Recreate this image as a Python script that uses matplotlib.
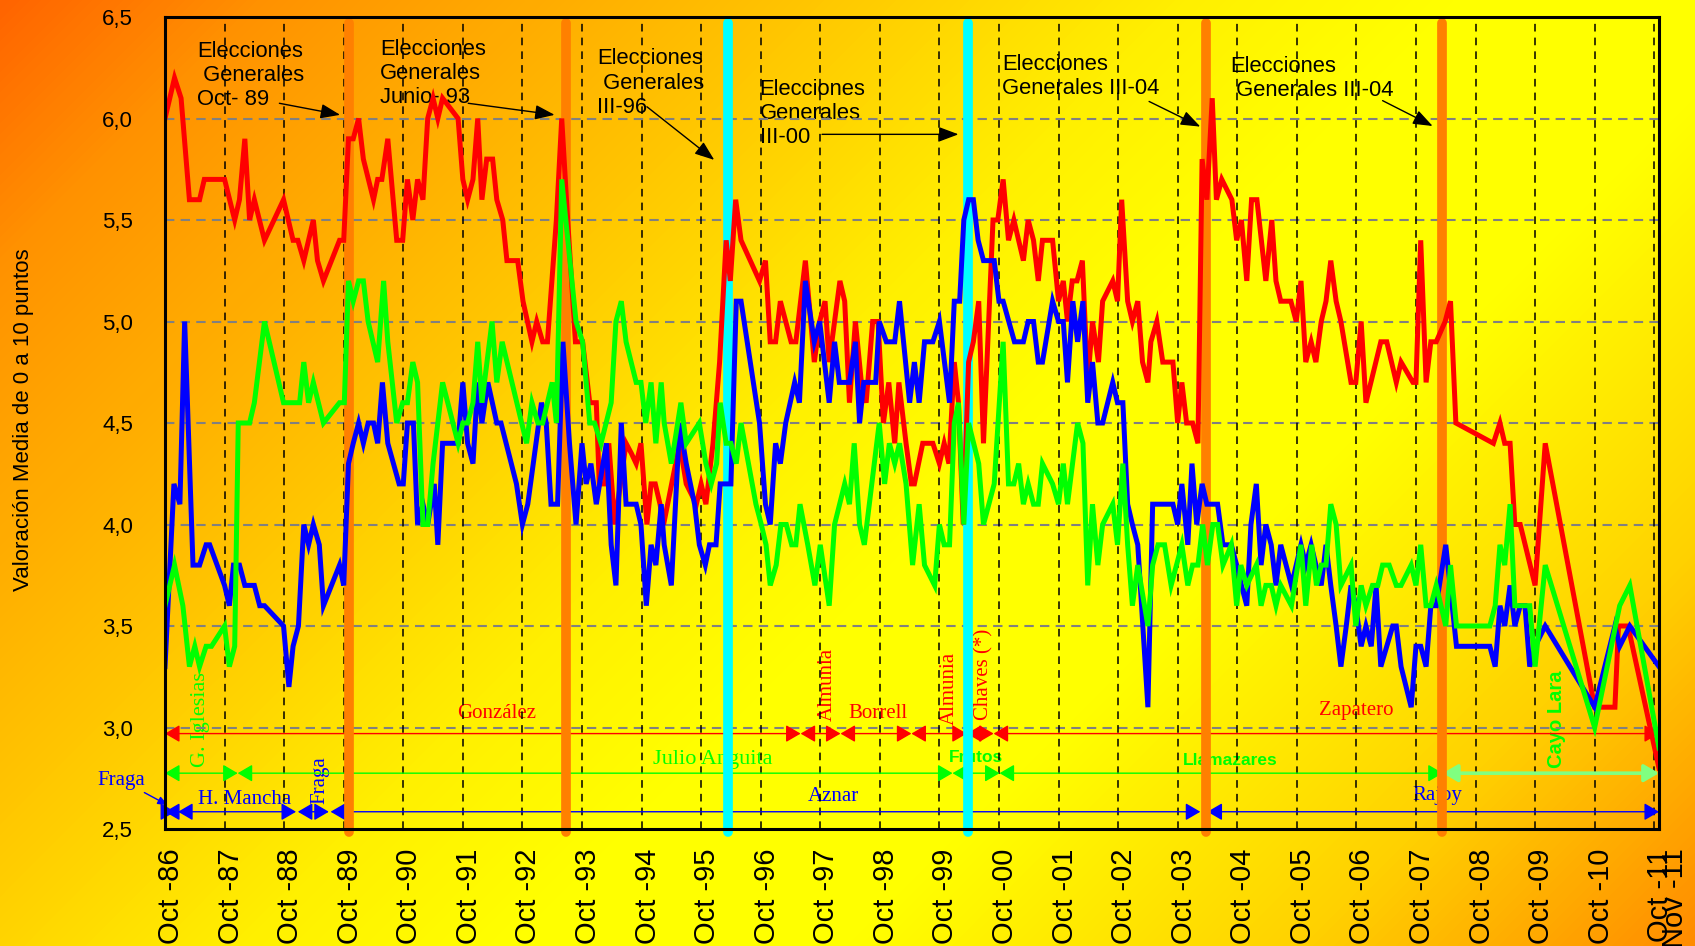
import numpy as np
import matplotlib.pyplot as plt
import matplotlib.transforms as mtransforms
from matplotlib.colors import LinearSegmentedColormap

plt.rcParams['font.family'] = ['Liberation Sans', 'DejaVu Sans']

# ---- data: (decimal year, mean rating) ----
psoe = [(1986.75, 6.0), (1986.91, 6.2), (1987.02, 6.1), (1987.16, 5.6), (1987.33, 5.6), (1987.41, 5.7),
        (1987.75, 5.7), (1987.92, 5.5), (1988.00, 5.6), (1988.09, 5.9), (1988.17, 5.5), (1988.25, 5.6),
        (1988.42, 5.4), (1988.74, 5.6), (1988.90, 5.4), (1988.98, 5.4), (1989.08, 5.3), (1989.24, 5.5),
        (1989.31, 5.3), (1989.41, 5.2), (1989.68, 5.4), (1989.75, 5.4), (1989.83, 5.9), (1989.91, 5.9),
        (1990.00, 6.0), (1990.08, 5.8), (1990.25, 5.6), (1990.32, 5.7), (1990.39, 5.7), (1990.49, 5.9),
        (1990.64, 5.4), (1990.74, 5.4), (1990.82, 5.7), (1990.91, 5.5), (1990.99, 5.7), (1991.08, 5.6),
        (1991.16, 6.0), (1991.25, 6.1), (1991.33, 6.0), (1991.41, 6.1), (1991.67, 6.0), (1991.75, 5.7),
        (1991.83, 5.6), (1991.92, 5.7), (1992.00, 6.0), (1992.07, 5.6), (1992.15, 5.8), (1992.25, 5.8),
        (1992.32, 5.6), (1992.42, 5.5), (1992.49, 5.3), (1992.67, 5.3), (1992.76, 5.1), (1992.91, 4.9),
        (1992.99, 5.0), (1993.09, 4.9), (1993.17, 4.9), (1993.32, 5.5), (1993.41, 6.0), (1993.51, 5.5),
        (1993.64, 4.9), (1993.76, 4.9), (1993.88, 4.6), (1993.99, 4.6), (1994.04, 4.2), (1994.13, 4.2),
        (1994.20, 4.4), (1994.30, 4.0), (1994.49, 4.4), (1994.58, 4.35), (1994.66, 4.3), (1994.74, 4.4),
        (1994.84, 4.0), (1994.91, 4.2), (1994.98, 4.2), (1995.06, 4.1), (1995.12, 4.0), (1995.39, 4.4),
        (1995.50, 4.2), (1995.67, 4.1), (1995.75, 4.2), (1995.83, 4.1), (1995.95, 4.4), (1996.06, 4.8),
        (1996.17, 5.4), (1996.24, 5.2), (1996.33, 5.6), (1996.42, 5.4), (1996.73, 5.2), (1996.83, 5.3),
        (1996.91, 4.9), (1997.00, 4.9), (1997.08, 5.1), (1997.26, 4.9), (1997.34, 4.9), (1997.50, 5.3),
        (1997.65, 4.8), (1997.74, 5.0), (1997.83, 5.1), (1997.90, 4.8), (1998.08, 5.2), (1998.16, 5.1),
        (1998.24, 4.6), (1998.34, 5.0), (1998.44, 4.7), (1998.52, 4.6), (1998.63, 5.0), (1998.72, 5.0),
        (1998.81, 4.5), (1998.90, 4.7), (1999.00, 4.4), (1999.07, 4.7), (1999.19, 4.4), (1999.28, 4.2),
        (1999.33, 4.2), (1999.47, 4.4), (1999.64, 4.4), (1999.75, 4.3), (1999.83, 4.4), (1999.91, 4.3),
        (2000.00, 4.8), (2000.07, 4.6), (2000.15, 4.0), (2000.24, 4.8), (2000.32, 4.9), (2000.41, 5.1),
        (2000.49, 4.4), (2000.65, 5.5), (2000.73, 5.5), (2000.82, 5.7), (2000.91, 5.4), (2001.00, 5.5),
        (2001.16, 5.3), (2001.24, 5.5), (2001.33, 5.4), (2001.41, 5.2), (2001.48, 5.4), (2001.65, 5.4),
        (2001.75, 5.1), (2001.83, 5.2), (2001.90, 5.0), (2001.98, 5.2), (2002.06, 5.2), (2002.15, 5.3),
        (2002.24, 4.7), (2002.32, 5.0), (2002.42, 4.8), (2002.49, 5.1), (2002.66, 5.2), (2002.74, 5.1),
        (2002.81, 5.6), (2002.91, 5.1), (2002.99, 5.0), (2003.08, 5.1), (2003.16, 4.8), (2003.25, 4.7),
        (2003.30, 4.9), (2003.40, 5.0), (2003.50, 4.8), (2003.67, 4.8), (2003.75, 4.5), (2003.82, 4.7),
        (2003.90, 4.5), (2004.00, 4.5), (2004.09, 4.4), (2004.16, 5.8), (2004.24, 5.6), (2004.33, 6.1),
        (2004.40, 5.6), (2004.49, 5.7), (2004.66, 5.6), (2004.74, 5.4), (2004.82, 5.5), (2004.91, 5.2),
        (2004.99, 5.6), (2005.08, 5.6), (2005.23, 5.2), (2005.33, 5.5), (2005.40, 5.2), (2005.48, 5.1),
        (2005.65, 5.1), (2005.74, 5.0), (2005.82, 5.2), (2005.90, 4.8), (2005.99, 4.9), (2006.07, 4.8),
        (2006.16, 5.0), (2006.24, 5.1), (2006.32, 5.3), (2006.41, 5.1), (2006.49, 5.0), (2006.66, 4.7),
        (2006.74, 4.7), (2006.83, 5.0), (2006.91, 4.6), (2007.16, 4.9), (2007.26, 4.9), (2007.42, 4.7),
        (2007.50, 4.8), (2007.70, 4.7), (2007.75, 4.7), (2007.83, 5.4), (2007.92, 4.7), (2008.00, 4.9),
        (2008.09, 4.9), (2008.24, 5.0), (2008.33, 5.1), (2008.42, 4.5), (2009.05, 4.4), (2009.16, 4.5),
        (2009.24, 4.4), (2009.33, 4.4), (2009.41, 4.0), (2009.50, 4.0), (2009.75, 3.7), (2009.92, 4.4),
        (2010.75, 3.1), (2011.09, 3.1), (2011.15, 3.5), (2011.31, 3.5), (2011.83, 2.8)]

pp = [(1986.75, 3.3), (1986.90, 4.2), (1987.00, 4.1), (1987.08, 5.0), (1987.22, 3.8), (1987.33, 3.8),
      (1987.44, 3.9), (1987.50, 3.9), (1987.75, 3.7), (1987.83, 3.6), (1987.90, 3.8), (1988.00, 3.8),
      (1988.09, 3.7), (1988.25, 3.7), (1988.34, 3.6), (1988.42, 3.6), (1988.74, 3.5), (1988.83, 3.2),
      (1988.90, 3.4), (1988.99, 3.5), (1989.08, 4.0), (1989.16, 3.9), (1989.24, 4.0), (1989.34, 3.9),
      (1989.41, 3.6), (1989.68, 3.8), (1989.75, 3.7), (1989.83, 4.3), (1989.91, 4.4), (1990.00, 4.5),
      (1990.08, 4.4), (1990.16, 4.5), (1990.25, 4.5), (1990.32, 4.4), (1990.40, 4.7), (1990.49, 4.4),
      (1990.68, 4.2), (1990.75, 4.2), (1990.82, 4.5), (1990.92, 4.5), (1990.99, 4.0), (1991.08, 4.1),
      (1991.16, 4.0), (1991.27, 4.2), (1991.33, 3.9), (1991.41, 4.4), (1991.67, 4.4), (1991.75, 4.7),
      (1991.83, 4.4), (1991.92, 4.3), (1992.00, 4.7), (1992.07, 4.5), (1992.17, 4.7), (1992.32, 4.5),
      (1992.39, 4.5), (1992.65, 4.2), (1992.75, 4.0), (1992.84, 4.1), (1993.07, 4.6), (1993.15, 4.5),
      (1993.23, 4.1), (1993.34, 4.1), (1993.43, 4.9), (1993.54, 4.4), (1993.65, 4.0), (1993.75, 4.4),
      (1993.82, 4.2), (1993.90, 4.3), (1993.99, 4.1), (1994.16, 4.4), (1994.24, 3.9), (1994.32, 3.7),
      (1994.41, 4.5), (1994.49, 4.1), (1994.66, 4.1), (1994.74, 4.0), (1994.83, 3.6), (1994.91, 3.9),
      (1994.99, 3.8), (1995.08, 4.1), (1995.13, 3.9), (1995.25, 3.7), (1995.39, 4.5), (1995.50, 4.3),
      (1995.64, 4.1), (1995.72, 3.9), (1995.82, 3.8), (1995.89, 3.9), (1996.00, 3.9), (1996.07, 4.2),
      (1996.25, 4.2), (1996.34, 5.1), (1996.42, 5.1), (1996.73, 4.5), (1996.83, 4.1), (1996.91, 4.0),
      (1997.00, 4.4), (1997.08, 4.3), (1997.17, 4.5), (1997.32, 4.7), (1997.40, 4.6), (1997.50, 5.2),
      (1997.65, 4.9), (1997.74, 5.0), (1997.90, 4.6), (1997.99, 4.9), (1998.07, 4.7), (1998.24, 4.7),
      (1998.34, 4.9), (1998.41, 4.5), (1998.48, 4.7), (1998.68, 4.7), (1998.74, 5.0), (1998.86, 4.9),
      (1999.00, 4.9), (1999.08, 5.1), (1999.25, 4.6), (1999.33, 4.8), (1999.41, 4.6), (1999.50, 4.9),
      (1999.64, 4.9), (1999.75, 5.0), (1999.92, 4.6), (2000.00, 5.1), (2000.09, 5.1), (2000.16, 5.5),
      (2000.24, 5.6), (2000.32, 5.6), (2000.40, 5.4), (2000.49, 5.3), (2000.67, 5.3), (2000.75, 5.1),
      (2000.82, 5.1), (2001.01, 4.9), (2001.16, 4.9), (2001.24, 5.0), (2001.33, 5.0), (2001.41, 4.8),
      (2001.48, 4.8), (2001.65, 5.1), (2001.75, 5.0), (2001.83, 5.0), (2001.90, 4.7), (2001.99, 5.1),
      (2002.07, 4.9), (2002.16, 5.1), (2002.24, 4.6), (2002.32, 4.8), (2002.41, 4.5), (2002.49, 4.5),
      (2002.66, 4.7), (2002.74, 4.6), (2002.83, 4.6), (2002.91, 4.1), (2002.99, 4.0), (2003.08, 3.9),
      (2003.25, 3.1), (2003.33, 4.1), (2003.53, 4.1), (2003.67, 4.1), (2003.75, 4.0), (2003.82, 4.2),
      (2003.92, 3.9), (2003.99, 4.3), (2004.07, 4.0), (2004.16, 4.2), (2004.24, 4.1), (2004.42, 4.1),
      (2004.51, 3.9), (2004.65, 3.9), (2004.74, 3.8), (2004.82, 3.7), (2004.91, 3.6), (2004.98, 4.0),
      (2005.07, 4.2), (2005.15, 3.8), (2005.23, 4.0), (2005.32, 3.9), (2005.40, 3.7), (2005.48, 3.9),
      (2005.66, 3.7), (2005.74, 3.8), (2005.82, 3.9), (2005.90, 3.8), (2005.99, 3.9), (2006.07, 3.8),
      (2006.16, 3.7), (2006.24, 3.9), (2006.32, 3.7), (2006.41, 3.5), (2006.49, 3.3), (2006.58, 3.5),
      (2006.66, 3.7), (2006.74, 3.6), (2006.83, 3.4), (2006.91, 3.5), (2007.00, 3.4), (2007.08, 3.7),
      (2007.16, 3.3), (2007.36, 3.5), (2007.42, 3.5), (2007.50, 3.3), (2007.67, 3.1), (2007.75, 3.4),
      (2007.83, 3.4), (2007.92, 3.3), (2008.00, 3.6), (2008.09, 3.6), (2008.25, 3.9), (2008.43, 3.4),
      (2008.99, 3.4), (2009.08, 3.3), (2009.16, 3.6), (2009.24, 3.5), (2009.33, 3.7), (2009.41, 3.5),
      (2009.50, 3.6), (2009.58, 3.6), (2009.66, 3.3), (2009.75, 3.4), (2009.92, 3.5), (2010.75, 3.1),
      (2011.09, 3.5), (2011.17, 3.4), (2011.34, 3.5), (2011.83, 3.3)]

iu = [(1986.75, 3.6), (1986.91, 3.8), (1987.05, 3.6), (1987.16, 3.3), (1987.25, 3.4), (1987.33, 3.3),
      (1987.44, 3.4), (1987.53, 3.4), (1987.75, 3.5), (1987.83, 3.3), (1987.92, 3.4), (1987.98, 4.5),
      (1988.17, 4.5), (1988.25, 4.6), (1988.42, 5.0), (1988.74, 4.6), (1989.01, 4.6), (1989.08, 4.8),
      (1989.16, 4.6), (1989.24, 4.7), (1989.41, 4.5), (1989.68, 4.6), (1989.76, 4.6), (1989.83, 5.2),
      (1989.91, 5.1), (1990.00, 5.2), (1990.08, 5.2), (1990.16, 5.0), (1990.32, 4.8), (1990.42, 5.2),
      (1990.49, 4.9), (1990.64, 4.5), (1990.74, 4.6), (1990.82, 4.6), (1990.91, 4.8), (1990.99, 4.7),
      (1991.08, 4.0), (1991.16, 4.0), (1991.25, 4.3), (1991.41, 4.7), (1991.67, 4.4), (1991.75, 4.5),
      (1991.83, 4.5), (1991.92, 4.6), (1992.00, 4.9), (1992.07, 4.6), (1992.24, 5.0), (1992.32, 4.7),
      (1992.41, 4.9), (1992.82, 4.4), (1992.91, 4.6), (1993.01, 4.5), (1993.09, 4.5), (1993.25, 4.7),
      (1993.32, 4.5), (1993.41, 5.7), (1993.65, 5.0), (1993.76, 4.9), (1993.88, 4.5), (1993.96, 4.5),
      (1994.07, 4.4), (1994.24, 4.6), (1994.32, 5.0), (1994.41, 5.1), (1994.49, 4.9), (1994.66, 4.7),
      (1994.74, 4.7), (1994.82, 4.5), (1994.91, 4.7), (1994.99, 4.4), (1995.08, 4.7), (1995.13, 4.5),
      (1995.25, 4.3), (1995.41, 4.6), (1995.50, 4.4), (1995.72, 4.5), (1995.83, 4.3), (1995.92, 4.2),
      (1996.01, 4.3), (1996.07, 4.6), (1996.17, 4.4), (1996.25, 4.4), (1996.34, 4.3), (1996.42, 4.5),
      (1996.67, 4.1), (1996.76, 4.0), (1996.84, 3.9), (1996.91, 3.7), (1997.01, 3.8), (1997.09, 4.0),
      (1997.18, 4.0), (1997.27, 3.9), (1997.34, 3.9), (1997.41, 4.1), (1997.54, 3.9), (1997.66, 3.7),
      (1997.75, 3.9), (1997.90, 3.6), (1997.99, 4.0), (1998.16, 4.2), (1998.24, 4.1), (1998.32, 4.4),
      (1998.41, 4.0), (1998.49, 3.9), (1998.74, 4.5), (1998.83, 4.2), (1998.91, 4.4), (1999.00, 4.3),
      (1999.08, 4.4), (1999.19, 4.2), (1999.30, 3.8), (1999.41, 4.1), (1999.50, 3.8), (1999.67, 3.7),
      (1999.75, 4.0), (1999.83, 3.9), (1999.92, 3.9), (2000.00, 4.5), (2000.07, 4.6), (2000.16, 4.0),
      (2000.24, 4.5), (2000.41, 4.3), (2000.49, 4.0), (2000.67, 4.2), (2000.82, 4.9), (2000.91, 4.2),
      (2001.00, 4.2), (2001.08, 4.3), (2001.16, 4.1), (2001.24, 4.2), (2001.33, 4.1), (2001.41, 4.1),
      (2001.48, 4.3), (2001.65, 4.2), (2001.75, 4.1), (2001.83, 4.3), (2001.90, 4.1), (2002.07, 4.5),
      (2002.16, 4.4), (2002.24, 3.7), (2002.32, 4.1), (2002.41, 3.8), (2002.49, 4.0), (2002.66, 4.1),
      (2002.74, 3.9), (2002.83, 4.3), (2002.91, 3.9), (2002.99, 3.6), (2003.08, 3.8), (2003.25, 3.5),
      (2003.33, 3.8), (2003.42, 3.9), (2003.53, 3.9), (2003.64, 3.7), (2003.82, 3.9), (2003.92, 3.7),
      (2004.00, 3.8), (2004.09, 3.8), (2004.17, 4.0), (2004.25, 3.8), (2004.34, 4.0), (2004.42, 4.0),
      (2004.51, 3.8), (2004.65, 3.9), (2004.74, 3.6), (2004.81, 3.8), (2004.91, 3.7), (2005.07, 3.8),
      (2005.15, 3.6), (2005.23, 3.7), (2005.32, 3.7), (2005.40, 3.6), (2005.48, 3.7), (2005.66, 3.6),
      (2005.82, 3.9), (2005.90, 3.6), (2006.00, 3.9), (2006.08, 3.7), (2006.16, 3.8), (2006.24, 3.8),
      (2006.32, 4.1), (2006.41, 4.0), (2006.49, 3.7), (2006.66, 3.8), (2006.74, 3.5), (2006.83, 3.7),
      (2006.91, 3.6), (2007.02, 3.7), (2007.11, 3.7), (2007.19, 3.8), (2007.30, 3.8), (2007.42, 3.7),
      (2007.50, 3.7), (2007.67, 3.8), (2007.75, 3.7), (2007.83, 3.9), (2007.92, 3.6), (2008.00, 3.6),
      (2008.09, 3.7), (2008.17, 3.6), (2008.25, 3.5), (2008.33, 3.8), (2008.43, 3.5), (2008.99, 3.5),
      (2009.08, 3.6), (2009.16, 3.9), (2009.24, 3.8), (2009.33, 4.1), (2009.41, 3.6), (2009.66, 3.6),
      (2009.75, 3.3), (2009.92, 3.8), (2010.75, 3.0), (2011.17, 3.6), (2011.34, 3.7), (2011.83, 2.9)]

# general elections (date, colour of the band)
election_dates = [1989.84, 1993.48, 1996.20, 2000.23, 2004.23, 2008.18]
election_colors = ['#FF8000', '#FF8000', '#00FFFF', '#00FFFF', '#FF8000', '#FF8000']

# party leaders: name, from, to
psoe_names = ['González', 'Almunia', 'Borrell', 'Almunia', 'Chaves (*)', 'Zapatero']
psoe_from = [1986.75, 1997.42, 1998.09, 1999.28, 2000.21, 2000.66]
psoe_to = [1997.42, 1998.09, 1999.28, 2000.21, 2000.66, 2011.83]
iu_names = ['G. Iglesias', 'Julio Anguita', 'Frutos', 'Llamazares', 'Cayo Lara']
iu_from = [1986.75, 1987.97, 1999.97, 2000.76, 2008.20]
iu_to = [1987.97, 1999.97, 2000.76, 2008.20, 2011.83]
pp_names = ['Fraga', 'H. Mancha', 'Fraga', 'Aznar', 'Rajoy']
pp_from = [1986.75, 1986.97, 1988.98, 1989.53, 2004.25]
pp_to = [1986.92, 1988.95, 1989.50, 2004.13, 2011.83]

tick_years = [1986.75, 1987.75, 1988.75, 1989.75, 1990.75, 1991.75, 1992.75, 1993.75, 1994.75,
              1995.75, 1996.75, 1997.75, 1998.75, 1999.75, 2000.75, 2001.75, 2002.75, 2003.75,
              2004.75, 2005.75, 2006.75, 2007.75, 2008.75, 2009.75, 2010.75, 2011.75, 2011.83]
tick_labels = ['Oct -86', 'Oct -87', 'Oct -88', 'Oct -89', 'Oct -90', 'Oct -91', 'Oct -92', 'Oct -93',
               'Oct -94', 'Oct -95', 'Oct -96', 'Oct -97', 'Oct -98', 'Oct -99', 'Oct -00', 'Oct -01',
               'Oct -02', 'Oct -03', 'Oct -04', 'Oct -05', 'Oct -06', 'Oct -07', 'Oct -08', 'Oct -09',
               'Oct -10', 'Oct -11', 'Nov -11']
y_ticks = [2.5, 3.0, 3.5, 4.0, 4.5, 5.0, 5.5, 6.0, 6.5]

RED, BLUE, GREEN = '#FF0000', '#0000FF', '#00FF00'

fig = plt.figure(figsize=(16.95, 9.46), dpi=100)

# diagonal orange -> yellow -> orange background
bg = fig.add_axes([0, 0, 1, 1], zorder=-10)
bg.axis('off')
H, W = 946, 1695
yy, xx = np.mgrid[0:H, 0:W]
grad = (xx + yy) / (W + H)
bg_cmap = LinearSegmentedColormap.from_list(
    'bg', [(0.0, '#FF6400'), (0.1, '#FF9200'), (0.3, '#FFC400'), (0.45, '#FFF000'),
           (0.55, '#FFFF00'), (0.68, '#FFFF00'), (0.85, '#FFD200'), (1.0, '#FF8C00')])
bg.imshow(grad, cmap=bg_cmap, aspect='auto', interpolation='bilinear')

ax = fig.add_axes([165 / 1695, 1 - 829 / 946, 1494 / 1695, 812 / 946])
ax.set_facecolor('none')
ax.set_xlim(1986.75, 2011.83)
ax.set_ylim(2.5, 6.5)

# grid
for y in y_ticks[1:-1]:
    ax.axhline(y, color='#808080', lw=1.5, ls=(0, (4.5, 3)), zorder=1)
for x in tick_years[:-1]:
    ax.axvline(x, color='black', lw=1.1, ls=(0, (5, 4)), zorder=1)

# election bands
for x, c in zip(election_dates, election_colors):
    ax.plot([x, x], [2.485, 6.47], color=c, lw=7, solid_capstyle='round', clip_on=False, zorder=3)

# rating series
for series, c in [(psoe, RED), (pp, BLUE), (iu, GREEN)]:
    t, v = np.array(series).T
    ax.plot(t, v, color=c, lw=3.6, solid_joinstyle='miter', zorder=4)


def span(x0, x1, y, color, lw=1.0, scale=15):
    ax.annotate('', xy=(x1, y), xytext=(x0, y), annotation_clip=False, zorder=1.5,
                arrowprops=dict(arrowstyle='<|-|>,head_length=0.6,head_width=0.35', color=color,
                                lw=lw, shrinkA=0, shrinkB=0, mutation_scale=scale))


for a, b in zip(psoe_from, psoe_to):
    span(a, b, 2.97, RED)
for i, (a, b) in enumerate(zip(iu_from, iu_to)):
    if iu_names[i] == 'Cayo Lara':
        span(a, b, 2.775, '#80FF80', lw=2.6)
    else:
        span(a, b, 2.775, GREEN)
for a, b in zip(pp_from, pp_to):
    span(a, b, 2.585, BLUE)

serif = ['Liberation Serif', 'DejaVu Serif']
sans = ['Liberation Sans', 'DejaVu Sans']
# leader labels: text, x, y, colour, rotation, family, weight, size
leader_labels = [
    ('González', 1992.32, 3.07, RED, 0, serif, 'normal', 15),
    ('Almunia', 1997.86, 3.21, RED, 90, serif, 'normal', 15),
    ('Borrell', 1998.71, 3.07, RED, 0, serif, 'normal', 15),
    ('Almunia', 1999.91, 3.19, RED, 90, serif, 'normal', 15),
    ('Chaves (*)', 2000.49, 3.26, RED, 90, serif, 'normal', 15),
    ('Zapatero', 2006.75, 3.086, RED, 0, serif, 'normal', 15),
    ('G. Iglesias', 1987.35, 3.04, GREEN, 90, serif, 'normal', 16),
    ('Julio Anguita', 1995.95, 2.84, GREEN, 0, serif, 'normal', 16),
    ('Frutos', 2000.36, 2.85, GREEN, 0, sans, 'bold', 12.5),
    ('Llamazares', 2004.63, 2.835, GREEN, 0, sans, 'bold', 12.5),
    ('Cayo Lara', 2010.11, 3.04, GREEN, 90, sans, 'bold', 14.5),
    ('Fraga', 1989.35, 2.74, BLUE, 90, serif, 'normal', 15),
    ('H. Mancha', 1988.09, 2.644, BLUE, 0, serif, 'normal', 15),
    ('Aznar', 1997.97, 2.66, BLUE, 0, serif, 'normal', 15),
    ('Rajoy', 2008.11, 2.665, BLUE, 0, serif, 'normal', 15),
]
for txt, x, y, c, rot, fam, wt, sz in leader_labels:
    ax.text(x, y, txt, color=c, rotation=rot, family=fam, fontweight=wt, fontsize=sz,
            ha='center', va='center', zorder=0.5)

ax.annotate('Fraga', xy=(1986.80, 2.617), xytext=(1986.02, 2.74), color=BLUE, family=serif,
            fontsize=15, ha='center', va='center', annotation_clip=False, zorder=5,
            arrowprops=dict(arrowstyle='-|>,head_length=0.5,head_width=0.2', color=BLUE, lw=1,
                            shrinkA=0, shrinkB=0, mutation_scale=12))

# election annotations: text, text anchor, arrow start, arrow tip
election_notes = [
    ('Elecciones\n Generales\nOct- 89', (1987.29, 6.382), (1988.67, 6.075), (1989.69, 6.018)),
    ('Elecciones\nGenerales\nJunio- 93', (1990.36, 6.393), (1991.84, 6.075), (1993.29, 6.018)),
    ('Elecciones\n Generales\nIII-96', (1994.01, 6.345), (1994.84, 6.058), (1995.97, 5.796)),
    ('Elecciones\nGenerales\nIII-00', (1996.73, 6.196), (1997.78, 5.922), (2000.07, 5.922)),
    ('Elecciones\nGenerales III-04', (2000.80, 6.318), (2003.27, 6.084), (2004.13, 5.96)),
    ('Elecciones\n Generales III-04', (2004.63, 6.31), (2007.19, 6.088), (2008.03, 5.963)),
]
for txt, pos, start, tip in election_notes:
    ax.text(pos[0], pos[1], txt, fontsize=15.8, ha='left', va='top', linespacing=1.2,
            color='black', zorder=0.5)
    ax.annotate('', xy=tip, xytext=start, zorder=5,
                arrowprops=dict(arrowstyle='-|>,head_length=0.8,head_width=0.3', color='black',
                                lw=1, shrinkA=0, shrinkB=0, mutation_scale=15))

# axes styling
for s in ax.spines.values():
    s.set_linewidth(2.2)
    s.set_zorder(6)
ax.set_yticks(y_ticks)
ax.set_yticklabels([f'{v:.1f}'.replace('.', ',') for v in y_ticks], fontsize=16)
ax.tick_params(axis='y', length=0, pad=23)
ax.set_xticks(tick_years)
ax.set_xticklabels(tick_labels, rotation=90, fontsize=21)
ax.tick_params(axis='x', length=0, pad=14)
labels = ax.get_xticklabels()
for i, lab in enumerate(labels):
    dx = 0.16 if i == len(labels) - 1 else 0.06
    lab.set_transform(lab.get_transform() + mtransforms.ScaledTranslation(dx, 0, fig.dpi_scale_trans))

fig.text(24 / 1695, 1 - 420 / 946, 'Valoración Media de 0 a 10 puntos', rotation=90,
         fontsize=16, ha='center', va='center')

fig.savefig('out.png', dpi=100)
